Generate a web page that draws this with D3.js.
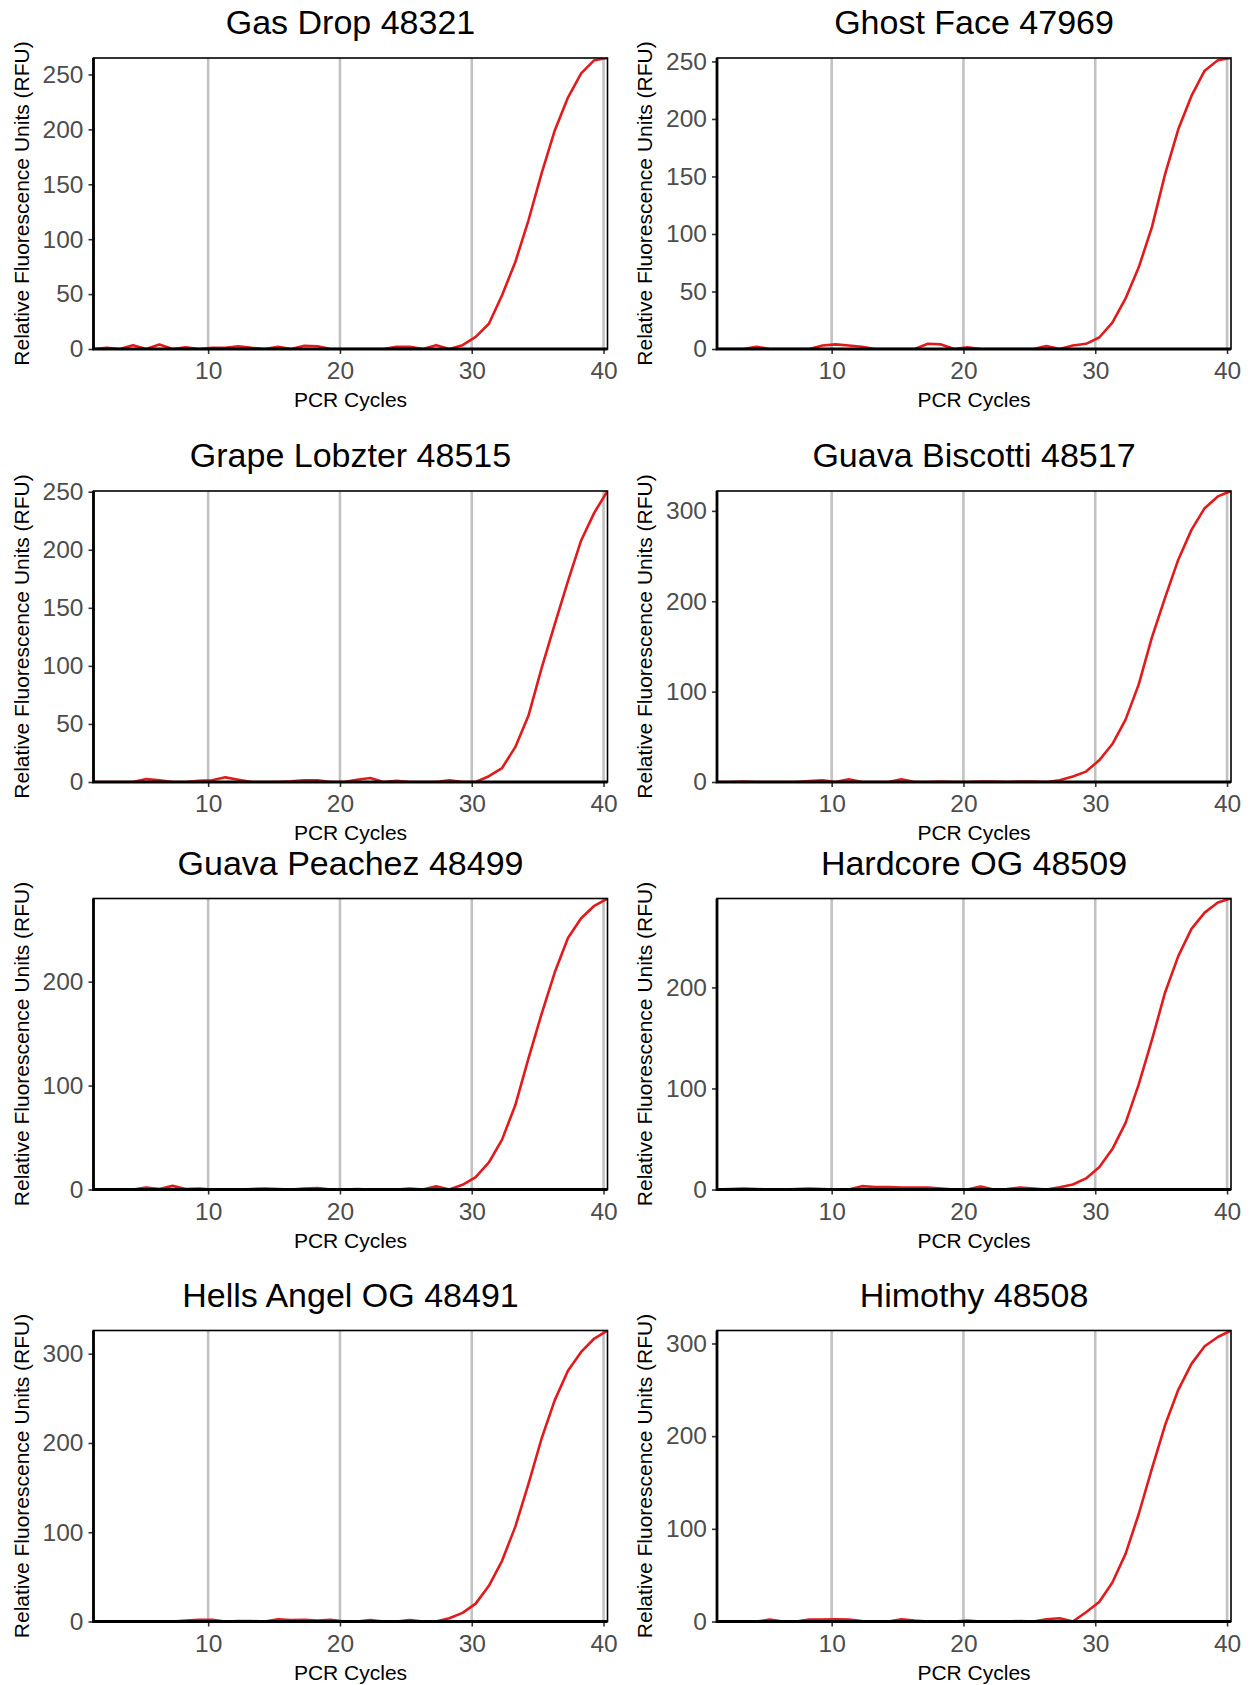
<!DOCTYPE html>
<html>
<head>
<meta charset="utf-8">
<script src="https://cdn.jsdelivr.net/npm/d3@7"></script>
<style>
  body { margin: 0; background: #fff; }
  svg text { font-family: "Liberation Sans", Arial, sans-serif; }
  .axis .domain { display: none; }
  .axis .tick line { stroke: #333; stroke-width: 1.6; }
  .axis .tick text { fill: #4d4d4d; font-size: 24.5px; }
</style>
</head>
<body>
<svg id="chart"></svg>
<script>
// PCR cycle positions of the readings (shared by every panel)
const cycles = [1.3, 2.3, 3.3, 4.3, 5.3, 6.3, 7.3, 8.3, 9.3, 10.3,
  11.3, 12.3, 13.3, 14.3, 15.3, 16.3, 17.3, 18.3, 19.3, 20.3,
  21.3, 22.3, 23.3, 24.3, 25.3, 26.3, 27.3, 28.3, 29.3, 30.3,
  31.3, 32.3, 33.3, 34.3, 35.3, 36.3, 37.3, 38.3, 39.3, 40.3];

const samples = ['Gas Drop 48321', 'Ghost Face 47969', 'Grape Lobzter 48515', 'Guava Biscotti 48517',
  'Guava Peachez 48499', 'Hardcore OG 48509', 'Hells Angel OG 48491', 'Himothy 48508'];

// RFU readings per sample
const gasDrop = [0, 1, 0, 3.5, 0, 4, 0, 1.5, 0, 1, 1, 2.5, 1, 0, 2, 0, 3, 2.5, 0, 0,
  0, 0, 0, 2, 2, 0, 3.5, 0, 3.5, 11, 23, 49, 79, 117, 160, 199, 229, 251, 263, 265];
const ghostFace = [0, 0, 0, 2, 0, 0, 0, 0, 3, 4, 3, 2, 0, 0, 0, 0, 4.5, 4, 0, 1.5,
  0, 0, 0, 0, 0, 2.5, 0, 3, 4.5, 10, 23, 44, 71, 106, 152, 191, 220, 242, 251, 253];
const grapeLobzter = [0, 0, 0, 0, 2.5, 1.5, 0, 0, 1, 1.5, 4, 2, 0, 0, 0, 0.5, 1.5, 1.5, 0, 0,
  2, 3.5, 0, 1, 0, 0, 0, 1.5, 0, 0, 5, 12, 30, 57, 98, 136, 173, 208, 232, 250.6];
const guavaBiscotti = [0, 0, 0.5, 0, 0, 0, 0, 1, 2, 0, 3, 0, 0, 0, 3, 0, 0, 0.5, 0, 0,
  0.5, 0.5, 0, 0.5, 0.5, 0, 2, 6, 11.5, 24, 42, 69, 108, 160, 204, 246, 279, 303, 316, 322];
const guavaPeachez = [0, 0, 0, 0, 2, 0.5, 3.5, 0.5, 1, 0, 0, 0, 0.5, 1, 0.5, 0, 1, 1.5, 0, 0,
  0.5, 0, 0, 0, 1, 0, 3, 0, 4.5, 12, 26, 48, 81, 126, 169, 209, 242, 261, 273, 280];
const hardcoreOG = [0, 0.5, 1, 0.5, 0, 0, 0.5, 1, 0.5, 0, 0, 3.3, 2.5, 2.5, 2, 2, 2, 1, 0, 0,
  3, 0, 0.5, 2, 1, 0, 2.3, 5, 11, 22, 40, 66, 104, 148, 195, 231, 258, 274, 284, 288];
const hellsAngelOG = [0, 0, 0, 0, 0, 0, 0, 1, 2, 2, 0, 0.5, 0.5, 0, 2.5, 1.5, 2, 1, 2, 0,
  0, 1.5, 0, 0, 1.5, 0, 0, 3.7, 9.7, 20, 40, 68, 106, 154, 205, 248, 281, 302, 317, 326];
const himothy = [0, 0, 0, 0, 2, 0, 0, 2, 2, 2.5, 2, 0.5, 0, 0, 2.5, 1, 0, 0, 0, 1,
  0, 0, 0, 0.5, 0, 2.5, 3.5, 0, 10, 21, 42, 73, 116, 165, 212, 250, 278, 297, 307, 314];

const series = [gasDrop, ghostFace, grapeLobzter, guavaBiscotti, guavaPeachez, hardcoreOG, hellsAngelOG, himothy];

// tick labels
const xTicks = [10, 20, 30, 40];
const yTicks = [
  [0, 50, 100, 150, 200, 250],
  [0, 50, 100, 150, 200, 250],
  [0, 50, 100, 150, 200, 250],
  [0, 100, 200, 300],
  [0, 100, 200],
  [0, 100, 200],
  [0, 100, 200, 300],
  [0, 100, 200, 300]
];

const xLabel = 'PCR Cycles';
const yLabel = 'Relative Fluorescence Units (RFU)';

class AmplificationChart {

  constructor(_config, _data, _title, _yTicks) {
    this.config = {
      parentElement: _config.parentElement,
      left: _config.left,
      top: _config.top,
      width: _config.width,
      height: _config.height,
      lineColor: _config.lineColor || '#e31a1c',
      id: _config.id
    };
    this.data = _data;
    this.title = _title;
    this.yTickValues = _yTicks;
    this.initVis();
  }

  initVis() {
    let vis = this;

    vis.width = vis.config.width;
    vis.height = vis.config.height;

    vis.xScale = d3.scaleLinear()
        .range([0, vis.width]);
    vis.yScale = d3.scaleLinear()
        .range([vis.height, 0]);

    vis.xAxis = d3.axisBottom(vis.xScale)
        .tickValues(xTicks)
        .tickSize(5)
        .tickPadding(8);
    vis.yAxis = d3.axisLeft(vis.yScale)
        .tickValues(vis.yTickValues)
        .tickSize(5)
        .tickPadding(5);

    vis.chart = d3.select(vis.config.parentElement).append('g')
        .attr('transform', `translate(${vis.config.left},${vis.config.top})`);

    vis.chart.append('clipPath')
        .attr('id', `clip-${vis.config.id}`)
      .append('rect')
        .attr('width', vis.width)
        .attr('height', vis.height);

    vis.gridG = vis.chart.append('g').attr('class', 'grid');
    vis.lineG = vis.chart.append('g').attr('clip-path', `url(#clip-${vis.config.id})`);

    vis.xAxisG = vis.chart.append('g')
        .attr('class', 'axis x-axis')
        .attr('transform', `translate(0,${vis.height})`);
    vis.yAxisG = vis.chart.append('g')
        .attr('class', 'axis y-axis');

    // title and axis titles
    vis.chart.append('text')
        .attr('x', vis.width / 2)
        .attr('y', -24)
        .attr('text-anchor', 'middle')
        .style('font-size', '34px')
        .attr('fill', '#000')
        .text(vis.title);

    vis.chart.append('text')
        .attr('x', vis.width / 2)
        .attr('y', vis.height + 58)
        .attr('text-anchor', 'middle')
        .style('font-size', '21px')
        .attr('fill', '#000')
        .text(xLabel);

    vis.chart.append('text')
        .attr('transform', `translate(-65,${vis.height / 2}) rotate(-90)`)
        .attr('text-anchor', 'middle')
        .style('font-size', '21px')
        .attr('fill', '#000')
        .text(yLabel);

    vis.updateVis();
  }

  updateVis() {
    let vis = this;

    vis.points = cycles.map((c, i) => ({ cycle: c, rfu: vis.data[i] }));
    vis.xScale.domain(d3.extent(cycles));
    vis.yScale.domain([0, d3.max(vis.data)]);

    vis.renderVis();
  }

  renderVis() {
    let vis = this;

    vis.gridG.selectAll('line')
        .data(xTicks)
      .join('line')
        .attr('x1', d => vis.xScale(d))
        .attr('x2', d => vis.xScale(d))
        .attr('y1', 0)
        .attr('y2', vis.height)
        .attr('stroke', '#c2c2c2')
        .attr('stroke-width', 2.6);

    let line = d3.line()
        .x(d => vis.xScale(d.cycle))
        .y(d => vis.yScale(d.rfu));

    vis.lineG.append('path')
        .datum(vis.points)
        .attr('fill', 'none')
        .attr('stroke', vis.config.lineColor)
        .attr('stroke-width', 2.6)
        .attr('stroke-linejoin', 'round')
        .attr('d', line);

    // panel border, thicker axis lines on left and bottom
    vis.chart.append('rect')
        .attr('width', vis.width)
        .attr('height', vis.height)
        .attr('fill', 'none')
        .attr('stroke', '#000')
        .attr('stroke-width', 1.6);
    vis.chart.append('path')
        .attr('d', `M0,0V${vis.height}H${vis.width}`)
        .attr('fill', 'none')
        .attr('stroke', '#000')
        .attr('stroke-width', 2.8);

    vis.xAxisG.call(vis.xAxis);
    vis.yAxisG.call(vis.yAxis);
  }
}

const svg = d3.select('#chart')
    .attr('width', 1252)
    .attr('height', 1685);

const colLeft = [93.5, 717];
const rowTop = [58, 491, 898.5, 1330.5];
const plotW = 514;
const plotH = 291;

series.forEach((s, i) => {
  new AmplificationChart({
    parentElement: '#chart',
    left: colLeft[i % 2],
    top: rowTop[Math.floor(i / 2)],
    width: plotW,
    height: plotH,
    id: i
  }, s, samples[i], yTicks[i]);
});
</script>
</body>
</html>
